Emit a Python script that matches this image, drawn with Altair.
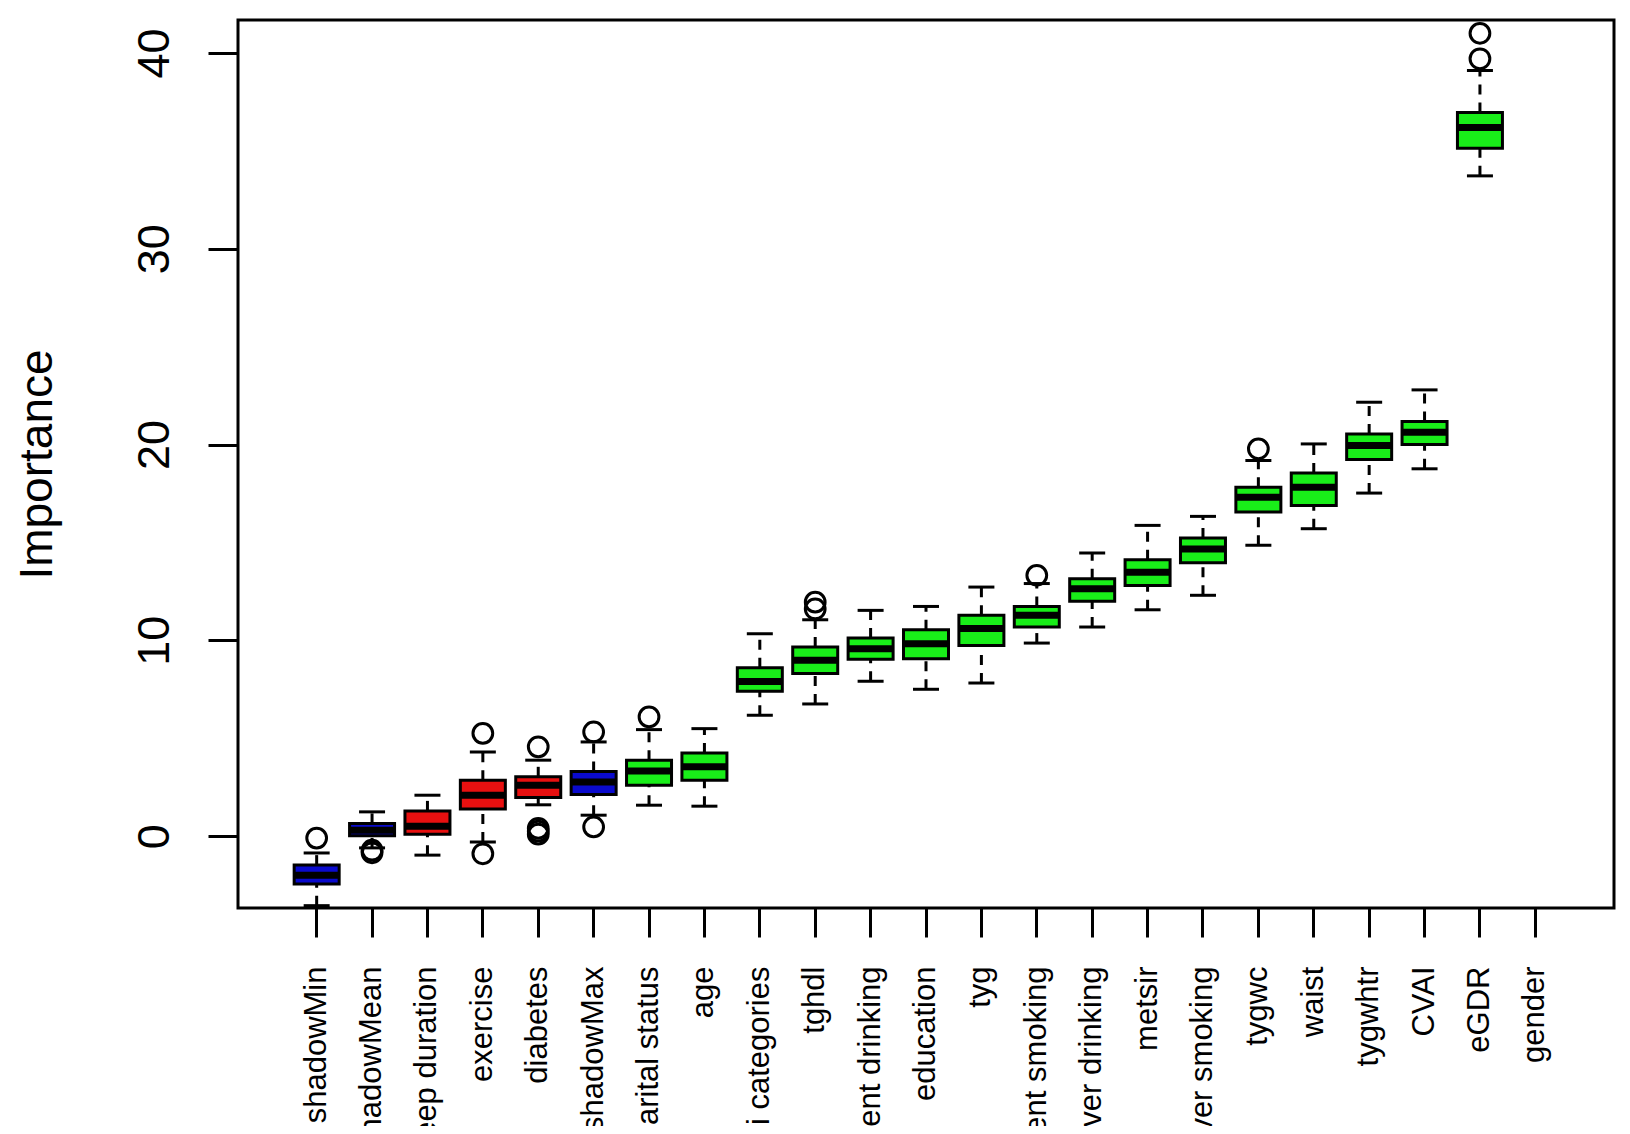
import altair as alt
import pandas as pd

features = ["shadowMin", "shadowMean", "sleep duration", "exercise", "diabetes",
            "shadowMax", "marital status", "age", "bmi categories", "tghdl",
            "current drinking", "education", "tyg", "current smoking", "ever drinking",
            "metsir", "ever smoking", "tygwc", "waist", "tygwhtr", "CVAI", "eGDR", "gender"]

box_features = features[:22]
status = ["shadow", "shadow", "rejected", "rejected", "rejected", "shadow"] + ["confirmed"] * 16

lower = [-3.55, -0.6, -0.97, -0.3, 1.6, 1.07, 1.58, 1.53, 6.17, 6.75, 7.91, 7.5,
         7.82, 9.86, 10.68, 11.56, 12.3, 14.85, 15.7, 17.52, 18.76, 33.72]
q1 = [-2.45, 0.02, 0.1, 1.38, 1.97, 2.13, 2.6, 2.86, 7.4, 8.3, 9.03, 9.06,
      9.74, 10.68, 12.0, 12.8, 13.96, 16.55, 16.89, 19.23, 20.0, 35.13]
median = [-2.0, 0.3, 0.5, 2.09, 2.6, 2.77, 3.33, 3.54, 7.9, 8.98, 9.57, 9.83,
          10.6, 11.28, 12.64, 13.48, 14.67, 17.31, 17.82, 19.95, 20.63, 36.19]
q3 = [-1.48, 0.65, 1.29, 2.86, 3.03, 3.3, 3.88, 4.25, 8.6, 9.66, 10.12, 10.54,
      11.28, 11.73, 13.14, 14.11, 15.23, 17.82, 18.54, 20.54, 21.17, 36.95]
upper = [-0.86, 1.24, 2.09, 4.3, 3.88, 4.81, 5.44, 5.49, 10.34, 11.05, 11.53, 11.73,
         12.72, 12.9, 14.46, 15.87, 16.33, 19.18, 20.03, 22.16, 22.79, 39.1]

out_feature = ["shadowMin", "shadowMean", "shadowMean", "exercise", "exercise",
               "diabetes", "diabetes", "diabetes", "diabetes", "shadowMax", "shadowMax",
               "marital status", "tghdl", "tghdl", "current smoking", "tygwc", "eGDR", "eGDR"]
out_value = [-0.1, -0.72, -0.85, 5.25, -0.9,
             4.56, 0.1, 0.25, 0.4, 5.32, 0.47,
             6.09, 11.6, 11.95, 13.32, 19.78, 39.7, 41.0]

df = pd.DataFrame({"feature": box_features, "status": status, "lower": lower,
                   "q1": q1, "median": median, "q3": q3, "upper": upper})
out_df = pd.DataFrame({"feature": out_feature, "value": out_value})

FONT = "Liberation Sans"
LW = 3

x = alt.X("feature:N", sort=features,
          scale=alt.Scale(domain=features, paddingInner=0, paddingOuter=0.92),
          axis=alt.Axis(title=None, labelAngle=-90, labelAlign="right", labelBaseline="middle",
                        labelFontSize=31, labelFont=FONT, labelColor="black", labelLimit=0,
                        tickSize=29, tickWidth=LW, tickColor="black", domain=False,
                        labelPadding=29, grid=False))

yscale = alt.Scale(domain=[-3.67, 41.68], nice=False, zero=False)
yaxis = alt.Axis(title="Importance", values=[0, 10, 20, 30, 40], grid=False, domain=False,
                 labelAngle=-90, labelAlign="center", labelBaseline="bottom",
                 labelFontSize=45, labelFont=FONT, labelColor="black", labelPadding=31,
                 tickSize=30, tickWidth=LW, tickColor="black",
                 titleFontSize=46, titleFont=FONT, titleFontWeight="normal", titleColor="black",
                 titleAngle=-90, titleBaseline="bottom", titleAlign="center",
                 titleX=-177, titleY=444)

base = alt.Chart(df)

whisk_up = base.mark_rule(strokeDash=[10, 8], strokeWidth=LW, color="black").encode(
    x=x, y=alt.Y("q3:Q", scale=yscale, axis=yaxis), y2="upper:Q")
whisk_lo = base.mark_rule(strokeDash=[10, 8], strokeWidth=LW, color="black").encode(
    x=x, y=alt.Y("lower:Q", scale=yscale, axis=yaxis), y2="q1:Q")
cap_up = base.mark_tick(size=26, thickness=LW, color="black", opacity=1).encode(
    x=x, y=alt.Y("upper:Q", scale=yscale, axis=yaxis))
cap_lo = base.mark_tick(size=26, thickness=LW, color="black", opacity=1).encode(
    x=x, y=alt.Y("lower:Q", scale=yscale, axis=yaxis))
boxes = base.mark_bar(size=45, stroke="black", strokeWidth=LW, opacity=1).encode(
    x=x, y=alt.Y("q1:Q", scale=yscale, axis=yaxis), y2="q3:Q",
    color=alt.Color("status:N",
                    scale=alt.Scale(domain=["shadow", "rejected", "confirmed"],
                                    range=["#0A0ACD", "#E81010", "#19EE19"]),
                    legend=None))
med = base.mark_tick(size=45, thickness=7, color="black", opacity=1).encode(
    x=x, y=alt.Y("median:Q", scale=yscale, axis=yaxis))
outl = alt.Chart(out_df).mark_point(shape="circle", size=390, filled=False, stroke="black",
                                    strokeWidth=LW, opacity=1).encode(
    x=x, y=alt.Y("value:Q", scale=yscale, axis=yaxis))

chart = alt.layer(whisk_up, whisk_lo, cap_up, cap_lo, boxes, med, outl).properties(
    width=1376, height=888,
    autosize=alt.AutoSizeParams(type="none"),
    padding={"left": 230, "top": 12, "right": 8, "bottom": 218},
    background="white",
).configure_view(stroke="black", strokeWidth=LW)

chart.save("out.html", embed_options={"renderer": "svg", "actions": False})
